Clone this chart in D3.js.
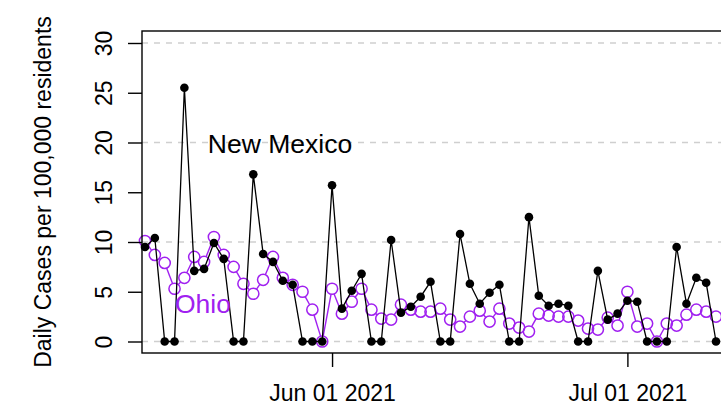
<!DOCTYPE html>
<html>
<head>
<meta charset="utf-8">
<script src="https://cdn.jsdelivr.net/npm/d3@7"></script>
<style>
  html, body { margin: 0; padding: 0; background: #fff; }
  svg { display: block; }
  text { font-family: "Liberation Sans", Arial, Helvetica, sans-serif; }
</style>
</head>
<body>
<svg id="chart" width="721" height="406"></svg>
<script>
const dates = [
  "2021-05-13","2021-05-14","2021-05-15","2021-05-16","2021-05-17","2021-05-18","2021-05-19",
  "2021-05-20","2021-05-21","2021-05-22","2021-05-23","2021-05-24","2021-05-25","2021-05-26",
  "2021-05-27","2021-05-28","2021-05-29","2021-05-30","2021-05-31","2021-06-01","2021-06-02",
  "2021-06-03","2021-06-04","2021-06-05","2021-06-06","2021-06-07","2021-06-08","2021-06-09",
  "2021-06-10","2021-06-11","2021-06-12","2021-06-13","2021-06-14","2021-06-15","2021-06-16",
  "2021-06-17","2021-06-18","2021-06-19","2021-06-20","2021-06-21","2021-06-22","2021-06-23",
  "2021-06-24","2021-06-25","2021-06-26","2021-06-27","2021-06-28","2021-06-29","2021-06-30",
  "2021-07-01","2021-07-02","2021-07-03","2021-07-04","2021-07-05","2021-07-06","2021-07-07",
  "2021-07-08","2021-07-09","2021-07-10"
];
const newMexico = [
  9.5, 10.4, 0, 0, 25.5, 7.1, 7.3, 9.9, 8.3, 0, 0, 16.8, 8.8, 8.0, 6.1, 5.7, 0, 0, 0,
  15.7, 3.3, 5.1, 6.8, 0, 0, 10.2, 2.9, 3.5, 4.5, 6.0, 0, 0, 10.8, 5.8, 3.8, 4.9, 5.7, 0, 0,
  12.5, 4.6, 3.6, 3.8, 3.6, 0, 0, 7.1, 2.2, 2.8, 4.1, 4.0, 0, 0, 0, 9.5, 3.8, 6.4, 5.9, 0
];
const ohio = [
  10.1, 8.7, 7.9, 5.3, 6.4, 8.5, 8.0, 10.5, 8.7, 7.5, 5.8, 4.8, 6.2, 8.5, 6.4, 5.7, 5.0, 3.2, 0,
  5.3, 2.8, 4.0, 5.3, 3.2, 2.3, 2.2, 3.7, 3.2, 3.0, 3.0, 3.3, 2.2, 1.5, 2.5, 3.1, 2.0, 3.3, 1.8, 1.4,
  1.0, 2.8, 2.6, 2.5, 2.5, 2.1, 1.3, 1.2, 2.4, 1.6, 5.0, 1.5, 1.8, 0, 1.8, 1.6, 2.7, 3.2, 3.0, 2.5
];
const yTicks = [0, 5, 10, 15, 20, 25, 30];
const gridValues = [0, 10, 20, 30];
const xTickDates = ["2021-06-01", "2021-07-01"];
const xTickLabels = ["Jun 01 2021", "Jul 01 2021"];
const yTitle = "Daily Cases per 100,000 residents";
const seriesLabels = ["New Mexico", "Ohio"];

const parse = d3.utcParse("%Y-%m-%d");
const dx = dates.map(parse);

const svg = d3.select("#chart");
const box = { left: 142, top: 31, bottom: 353, right: 760 };

const x = d3.scaleUtc().domain([dx[0], dx[dx.length - 1]]).range([145, 716]);
const y = d3.scaleLinear().domain([0, 30]).range([341.5, 43]);

// grid
svg.append("g").selectAll("line").data(gridValues).join("line")
  .attr("x1", box.left).attr("x2", 721)
  .attr("y1", d => y(d)).attr("y2", d => y(d))
  .attr("stroke", "#cfcfcf").attr("stroke-width", 1.3)
  .attr("stroke-dasharray", "6,6");

// Ohio series (type "b": segments with gaps at points)
const R_OH = 5.6;
const ohPts = dx.map((d, i) => [x(d), y(ohio[i])]);
const segs = [];
for (let i = 0; i < ohPts.length - 1; i++) {
  const [x1, y1] = ohPts[i], [x2, y2] = ohPts[i + 1];
  const L = Math.hypot(x2 - x1, y2 - y1);
  if (L > 2 * R_OH) {
    const ux = (x2 - x1) / L, uy = (y2 - y1) / L;
    segs.push([x1 + ux * R_OH, y1 + uy * R_OH, x2 - ux * R_OH, y2 - uy * R_OH]);
  }
}
svg.append("g").selectAll("line").data(segs).join("line")
  .attr("x1", d => d[0]).attr("y1", d => d[1]).attr("x2", d => d[2]).attr("y2", d => d[3])
  .attr("stroke", "#a020f0").attr("stroke-width", 1.4);
svg.append("g").selectAll("circle").data(ohPts).join("circle")
  .attr("cx", d => d[0]).attr("cy", d => d[1]).attr("r", R_OH)
  .attr("fill", "none").attr("stroke", "#a020f0").attr("stroke-width", 1.5);

// New Mexico series
svg.append("path")
  .datum(dx.map((d, i) => [d, newMexico[i]]))
  .attr("fill", "none").attr("stroke", "#000").attr("stroke-width", 1.3)
  .attr("d", d3.line().x(d => x(d[0])).y(d => y(d[1])));
svg.append("g").selectAll("circle").data(dx).join("circle")
  .attr("cx", d => x(d)).attr("cy", (d, i) => y(newMexico[i])).attr("r", 4.3)
  .attr("fill", "#000");

// box
svg.append("rect")
  .attr("x", box.left).attr("y", box.top)
  .attr("width", box.right - box.left).attr("height", box.bottom - box.top)
  .attr("fill", "none").attr("stroke", "#000").attr("stroke-width", 1.4);

// y axis
const gy = svg.append("g").attr("transform", `translate(${box.left},0)`)
  .call(d3.axisLeft(y).tickValues(yTicks).tickSize(14).tickFormat(d3.format("d")));
gy.select(".domain").remove();
gy.selectAll(".tick line").attr("stroke", "#000").attr("stroke-width", 1.4);
gy.selectAll(".tick text")
  .attr("x", 0).attr("dy", 0).attr("text-anchor", "middle")
  .attr("transform", "translate(-30,0) rotate(-90)")
  .attr("font-size", 23).attr("fill", "#000")
  .style("font-family", '"Liberation Sans", Arial, Helvetica, sans-serif');

// x axis
const gx = svg.append("g").attr("transform", `translate(0,${box.bottom})`)
  .call(d3.axisBottom(x).tickValues(xTickDates.map(parse)).tickSize(14)
    .tickFormat((d, i) => xTickLabels[i]));
gx.select(".domain").remove();
gx.selectAll(".tick line").attr("stroke", "#000").attr("stroke-width", 1.4);
gx.selectAll(".tick text")
  .attr("y", 48).attr("dy", 0)
  .attr("font-size", 23).attr("fill", "#000")
  .style("font-family", '"Liberation Sans", Arial, Helvetica, sans-serif');

// y title
svg.append("text")
  .attr("transform", `translate(51,${(box.top + box.bottom) / 2}) rotate(-90)`)
  .attr("text-anchor", "middle").attr("font-size", 23).attr("fill", "#000")
  .text(yTitle);

// series labels
svg.append("text").attr("x", 280).attr("y", 153).attr("text-anchor", "middle")
  .attr("font-size", 26.5).attr("fill", "#000").text(seriesLabels[0]);
svg.append("text").attr("x", 203).attr("y", 313).attr("text-anchor", "middle")
  .attr("font-size", 26.5).attr("fill", "#a020f0").text(seriesLabels[1]);
</script>
</body>
</html>
